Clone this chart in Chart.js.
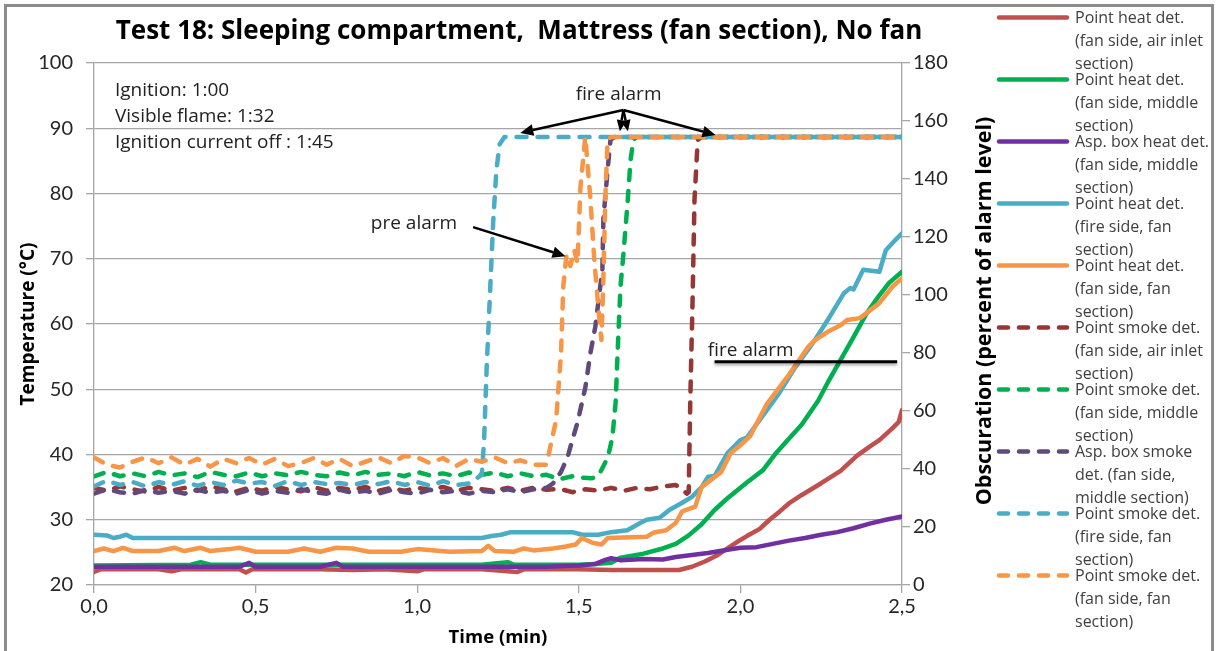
<!DOCTYPE html>
<html>
<head>
<meta charset="utf-8">
<script src="https://cdn.jsdelivr.net/npm/chart.js@4.4.1/dist/chart.umd.min.js"></script>
<style>
    html, body { margin: 0; padding: 0; background: #fff; }
    #wrap { position: relative; width: 1216px; height: 651px; overflow: hidden; }
    #frame { position: absolute; left: 4px; top: 4px; width: 1210px; height: 700px; border: 3px solid #8c8c8c; box-sizing: border-box; }
    #chart { position: absolute; left: 0; top: 0; }
    #legend { position: absolute; left: 0; top: 0; width: 1216px; height: 651px; pointer-events: none;
              font-family: "Open Sans", sans-serif; font-size: 16px; color: #404040; }
    .lg-item { position: absolute; left: 995px; }
    .lg-item svg { position: absolute; left: 0; top: 0; }
    .lg-text { position: absolute; left: 80px; top: 0; line-height: 23px; white-space: nowrap; }
</style>
</head>
<body>
<div id="wrap">
    <div id="frame"></div>
    <canvas id="chart" width="1216" height="651"></canvas>
    <div id="legend"></div>
</div>
<script>
// time in minutes, heat detectors in deg C (left axis)
const heatInlet = [[0,22.0],[0.02,22.4],[0.1,22.4],[0.2,22.4],[0.24,22.1],[0.27,22.4],[0.45,22.4],[0.47,21.9],[0.49,22.4],[0.6,22.4],[0.7,22.4],[0.8,22.3],[0.9,22.4],[1.0,22.1],[1.02,22.4],[1.2,22.4],[1.31,22.0],[1.33,22.4],[1.5,22.4],[1.6,22.3],[1.7,22.3],[1.81,22.3],[1.85,22.8],[1.89,23.6],[1.93,24.6],[1.96,25.6],[2.0,26.9],[2.02,27.5],[2.06,28.6],[2.09,30.0],[2.12,31.2],[2.15,32.5],[2.19,33.8],[2.25,35.6],[2.31,37.5],[2.36,39.8],[2.4,41.2],[2.43,42.2],[2.47,44.0],[2.49,45.0],[2.5,46.8]];
const heatMiddle = [[0,23.0],[0.3,23.1],[0.33,23.5],[0.36,23.1],[0.6,23.1],[0.9,23.1],[1.2,23.1],[1.28,23.5],[1.3,23.1],[1.5,23.1],[1.55,23.2],[1.6,23.4],[1.63,24.2],[1.7,24.8],[1.76,25.6],[1.8,26.3],[1.84,27.6],[1.88,29.3],[1.92,31.5],[1.96,33.3],[2.0,34.9],[2.02,35.7],[2.07,37.6],[2.11,40.2],[2.15,42.4],[2.19,44.6],[2.24,48.2],[2.27,51.0],[2.31,54.5],[2.35,58.0],[2.39,61.6],[2.43,64.4],[2.46,66.3],[2.5,68.0]];
const heatAsp = [[0,22.8],[0.2,22.8],[0.45,22.8],[0.48,23.4],[0.5,22.8],[0.7,22.8],[0.75,23.4],[0.77,22.8],[1.0,22.8],[1.2,22.8],[1.4,22.8],[1.45,22.9],[1.5,23.0],[1.55,23.2],[1.58,23.8],[1.6,24.1],[1.63,23.8],[1.7,24.0],[1.76,23.9],[1.8,24.3],[1.85,24.6],[1.9,24.9],[1.96,25.4],[2.0,25.7],[2.05,25.8],[2.1,26.3],[2.15,26.8],[2.2,27.2],[2.25,27.7],[2.3,28.1],[2.35,28.7],[2.4,29.4],[2.45,30.0],[2.5,30.5]];
const heatFire = [[0,27.7],[0.04,27.6],[0.06,27.2],[0.08,27.4],[0.1,27.7],[0.12,27.2],[0.3,27.2],[0.6,27.2],[0.9,27.2],[1.2,27.2],[1.23,27.5],[1.26,27.7],[1.29,28.1],[1.48,28.1],[1.51,27.7],[1.56,27.7],[1.6,28.1],[1.65,28.4],[1.69,29.5],[1.71,30.0],[1.75,30.3],[1.78,31.5],[1.82,32.6],[1.85,33.5],[1.88,35.0],[1.9,36.6],[1.92,36.7],[1.96,40.2],[2.0,42.2],[2.02,42.6],[2.06,45.3],[2.12,49.4],[2.17,53.4],[2.23,57.5],[2.27,60.6],[2.32,64.7],[2.34,65.5],[2.35,65.3],[2.38,68.3],[2.43,68.0],[2.45,71.3],[2.48,72.9],[2.5,73.9]];
const heatFan = [[0,25.2],[0.03,25.6],[0.06,25.2],[0.09,25.7],[0.12,25.2],[0.2,25.2],[0.25,25.7],[0.28,25.2],[0.33,25.7],[0.36,25.2],[0.42,25.5],[0.45,25.7],[0.5,25.1],[0.6,25.1],[0.65,25.6],[0.7,25.1],[0.75,25.7],[0.8,25.6],[0.85,25.1],[0.95,25.1],[1.0,25.5],[1.1,25.1],[1.2,25.2],[1.22,26.0],[1.24,25.2],[1.3,25.1],[1.33,25.6],[1.36,25.3],[1.42,25.6],[1.46,25.9],[1.49,26.2],[1.51,27.2],[1.54,26.5],[1.57,26.2],[1.59,27.2],[1.71,27.4],[1.73,28.0],[1.77,28.4],[1.8,29.5],[1.82,31.3],[1.86,32.0],[1.88,35.0],[1.94,37.3],[1.97,40.2],[2.0,41.4],[2.03,42.8],[2.08,47.6],[2.15,52.2],[2.21,56.5],[2.23,57.5],[2.27,58.8],[2.31,59.8],[2.33,60.6],[2.37,60.9],[2.43,63.2],[2.47,65.7],[2.5,67.0]];

// smoke detectors in percent of alarm level (right axis)
const smokeInlet = [[0,33.5],[0.04,32.5],[0.08,34],[0.12,33],[0.16,32.2],[0.2,33.8],[0.24,32.5],[0.28,33.5],[0.32,32.5],[0.36,34],[0.4,33],[0.44,32.3],[0.48,33.5],[0.52,32.5],[0.56,33.8],[0.6,33],[0.64,32.3],[0.68,33.8],[0.72,32.5],[0.76,33.5],[0.8,32.8],[0.84,33.8],[0.88,32.5],[0.92,33.5],[0.96,32.5],[1.0,33.5],[1.04,32.8],[1.08,33.8],[1.12,32.5],[1.16,33.5],[1.2,33],[1.24,32.5],[1.28,33.5],[1.32,32.5],[1.36,33.5],[1.4,32.8],[1.44,33.2],[1.48,32],[1.52,33],[1.56,32.5],[1.6,33.5],[1.64,32.5],[1.68,33.5],[1.72,33],[1.76,34],[1.8,34.5],[1.835,31.5],[1.84,32],[1.845,64],[1.852,98],[1.858,133],[1.868,153.5],[1.88,154.5],[2.5,154.5]];
const smokeMiddle = [[0,37.5],[0.04,39],[0.08,37.5],[0.12,38.5],[0.16,37.5],[0.2,39],[0.24,37.8],[0.28,38.5],[0.32,37.2],[0.36,39],[0.4,38],[0.44,37.5],[0.48,38.8],[0.52,37.5],[0.56,38.5],[0.6,37.8],[0.64,39],[0.68,38],[0.72,37.5],[0.76,38.8],[0.8,37.8],[0.84,39],[0.88,38],[0.92,38.5],[0.96,37.5],[1.0,39],[1.04,37.8],[1.08,38.5],[1.12,37.5],[1.16,38.8],[1.2,38],[1.24,38.8],[1.28,37.5],[1.32,38.5],[1.36,37.5],[1.4,38],[1.44,36.5],[1.48,37.5],[1.51,37],[1.54,36.8],[1.56,37.5],[1.59,44],[1.604,51],[1.614,63],[1.62,80],[1.629,103],[1.638,114],[1.651,132],[1.66,146.5],[1.669,153.5],[1.68,154.5],[2.5,154.5]];
const smokeAsp = [[0,31.5],[0.04,33],[0.08,32],[0.12,31.5],[0.16,32.8],[0.2,31.8],[0.24,32.5],[0.28,31.5],[0.32,32.8],[0.36,31.8],[0.4,32.5],[0.44,31.5],[0.48,32.8],[0.52,31.5],[0.56,32.5],[0.6,31.8],[0.64,33],[0.68,32],[0.72,31.5],[0.76,32.8],[0.8,31.8],[0.84,32.5],[0.88,31.5],[0.92,32.8],[0.96,32],[1.0,31.5],[1.04,32.8],[1.08,32],[1.12,32.5],[1.16,31.5],[1.2,32.5],[1.24,32],[1.28,33],[1.32,32],[1.36,33],[1.4,33.5],[1.42,35],[1.445,39],[1.465,44],[1.48,50],[1.496,56],[1.51,63],[1.52,68],[1.536,80],[1.551,89],[1.561,98],[1.573,109],[1.576,126],[1.589,143],[1.598,153.5],[1.61,154.5],[2.5,154.5]];
const smokeFire = [[0,34],[0.04,36],[0.08,34.5],[0.12,35.5],[0.16,34],[0.2,35.5],[0.24,34.5],[0.28,35.8],[0.32,34.2],[0.36,35.5],[0.4,34.5],[0.44,36],[0.48,35],[0.52,35.5],[0.56,34.2],[0.6,35.8],[0.64,34.5],[0.68,35.5],[0.72,34.8],[0.76,35.2],[0.8,34.5],[0.84,35.5],[0.88,34.8],[0.92,35.8],[0.96,34.5],[1.0,35.5],[1.04,34.2],[1.08,35.8],[1.12,34.5],[1.16,35],[1.2,38],[1.207,50],[1.215,75],[1.225,100],[1.235,125],[1.245,143],[1.255,152],[1.27,154.5],[2.5,154.5]];
const smokeFan = [[0,44],[0.04,41.5],[0.08,40.5],[0.12,42.5],[0.16,44],[0.2,42],[0.24,44],[0.28,41.5],[0.32,43.5],[0.36,40.8],[0.4,43.5],[0.44,42],[0.48,43.8],[0.52,41.5],[0.56,43.5],[0.6,41],[0.64,42],[0.68,43.8],[0.72,41.5],[0.76,43.5],[0.8,41],[0.84,42.5],[0.88,44],[0.92,42],[0.96,44.5],[1.0,44],[1.04,42],[1.08,43.8],[1.12,41],[1.16,43.5],[1.2,42.5],[1.24,44],[1.28,42],[1.32,43],[1.36,41.5],[1.4,41.5],[1.43,57],[1.445,80],[1.452,103],[1.462,114],[1.474,110],[1.486,115.5],[1.496,111],[1.505,137],[1.52,154.5],[1.536,133],[1.548,112],[1.561,95],[1.57,84.5],[1.576,105],[1.582,133],[1.589,153.5],[1.6,154.5],[2.5,154.5]];

const seriesData = [heatInlet, heatMiddle, heatAsp, heatFire, heatFan, smokeInlet, smokeMiddle, smokeAsp, smokeFire, smokeFan];
const seriesLabels = [
    ['Point heat det.', '(fan side, air inlet', 'section)'],
    ['Point heat det.', '(fan side, middle', 'section)'],
    ['Asp. box heat det.', '(fan side, middle', 'section)'],
    ['Point heat det.', '(fire side, fan', 'section)'],
    ['Point heat det.', '(fan side, fan', 'section)'],
    ['Point smoke det.', '(fan side, air inlet', 'section)'],
    ['Point smoke det.', '(fan side, middle', 'section)'],
    ['Asp. box smoke', 'det. (fan side,', 'middle section)'],
    ['Point smoke det.', '(fire side, fan', 'section)'],
    ['Point smoke det.', '(fan side, fan', 'section)']
];
const seriesColors = ['#C0504D', '#00B050', '#7030A0', '#4BACC6', '#F79646', '#953735', '#00B050', '#604A7B', '#4BACC6', '#F79646'];
const seriesDashed = [false, false, false, false, false, true, true, true, true, true];

const xTicks = [0, 0.5, 1.0, 1.5, 2.0, 2.5];
const heatAlarmLevel = 54.2;   // deg C, fire alarm line for heat detectors

const tickFont = 'Lato, "Open Sans", sans-serif';
const textFont = '"Open Sans", sans-serif';
const gridColor = '#a6a6a6';
const textColor = '#262626';

const datasets = seriesData.map((pts, i) => ({
    label: seriesLabels[i].join(' '),
    data: pts.map(p => ({ x: p[0], y: p[1] })),
    yAxisID: seriesDashed[i] ? 'y2' : 'y',
    borderColor: seriesColors[i],
    borderWidth: 4.5,
    borderDash: seriesDashed[i] ? [10, 11] : [],
    borderCapStyle: 'round',
    borderJoinStyle: 'round',
    pointRadius: 0,
    tension: 0,
    order: seriesData.length - i
}));

function drawArrow(ctx, x1, y1, x2, y2, head) {
    const ang = Math.atan2(y2 - y1, x2 - x1);
    const bx = x2 - head * Math.cos(ang);
    const by = y2 - head * Math.sin(ang);
    ctx.beginPath();
    ctx.moveTo(x1, y1);
    ctx.lineTo(bx, by);
    ctx.stroke();
    ctx.beginPath();
    ctx.moveTo(x2, y2);
    ctx.lineTo(bx + head * 0.45 * Math.sin(ang), by - head * 0.45 * Math.cos(ang));
    ctx.lineTo(bx - head * 0.45 * Math.sin(ang), by + head * 0.45 * Math.cos(ang));
    ctx.closePath();
    ctx.fill();
}

// title, notes, alarm arrows and the right axis title
const notesPlugin = {
    id: 'notes',
    afterDatasetsDraw(chart) {
        const { ctx, chartArea, scales } = chart;
        const x = scales.x, yT = scales.y, yO = scales.y2;
        ctx.save();

        ctx.fillStyle = '#000';
        ctx.font = 'bold 26px ' + textFont;
        ctx.textAlign = 'center';
        ctx.textBaseline = 'middle';
        ctx.fillText('Test 18: Sleeping compartment,  Mattress (fan section), No fan', (chartArea.left + chartArea.right) / 2 + 21, 32);

        ctx.fillStyle = '#222';
        ctx.font = '19px ' + textFont;
        ctx.textAlign = 'left';
        const noteX = chartArea.left + 21;
        ctx.fillText('Ignition: 1:00', noteX, chartArea.top + 28);
        ctx.fillText('Visible flame: 1:32', noteX, chartArea.top + 54);
        ctx.fillText('Ignition current off : 1:45', noteX, chartArea.top + 80);

        ctx.font = '19px ' + textFont;
        ctx.textAlign = 'center';
        ctx.fillText('fire alarm', x.getPixelForValue(1.623), yO.getPixelForValue(169));
        ctx.fillText('pre alarm', x.getPixelForValue(0.99), yO.getPixelForValue(124.5));
        ctx.fillText('fire alarm', x.getPixelForValue(2.032), yT.getPixelForValue(56.0));

        ctx.strokeStyle = '#000';
        ctx.fillStyle = '#000';
        ctx.lineWidth = 2.5;
        const ax = x.getPixelForValue(1.638), ay = yO.getPixelForValue(163.8);
        drawArrow(ctx, ax, ay, x.getPixelForValue(1.319), yO.getPixelForValue(155.9), 13);
        drawArrow(ctx, ax, ay, x.getPixelForValue(1.923), yO.getPixelForValue(155.2), 13);
        drawArrow(ctx, ax, ay, x.getPixelForValue(1.627), yO.getPixelForValue(156.5), 11);
        drawArrow(ctx, ax, ay, x.getPixelForValue(1.652), yO.getPixelForValue(156.5), 11);
        drawArrow(ctx, x.getPixelForValue(1.173), yO.getPixelForValue(123.4), x.getPixelForValue(1.459), yO.getPixelForValue(113.4), 13);

        ctx.shadowColor = 'rgba(0,0,0,0.35)';
        ctx.shadowBlur = 3;
        ctx.shadowOffsetY = 2;
        ctx.lineWidth = 3;
        ctx.beginPath();
        ctx.moveTo(x.getPixelForValue(1.92), yT.getPixelForValue(heatAlarmLevel));
        ctx.lineTo(x.getPixelForValue(2.485), yT.getPixelForValue(heatAlarmLevel));
        ctx.stroke();
        ctx.restore();

        ctx.save();
        ctx.fillStyle = '#000';
        ctx.font = 'bold 21.5px ' + textFont;
        ctx.textAlign = 'center';
        ctx.textBaseline = 'middle';
        ctx.translate(chartArea.right + 83, (chartArea.top + chartArea.bottom) / 2 - 13);
        ctx.rotate(-Math.PI / 2);
        ctx.fillText('Obscuration (percent of alarm level)', 0, 0);
        ctx.restore();
    }
};

const ctx = document.getElementById('chart').getContext('2d');
new Chart(ctx, {
    type: 'line',
    data: { datasets: datasets },
    options: {
        responsive: false,
        animation: false,
        layout: { padding: { top: 63, right: 224, bottom: 0, left: 0 } },
        plugins: {
            legend: { display: false },
            title: { display: false },
            tooltip: { enabled: false }
        },
        scales: {
            x: {
                type: 'linear',
                min: 0,
                max: 2.5,
                afterFit: s => { s.height = 66; },
                afterBuildTicks: s => { s.ticks = xTicks.map(v => ({ value: v })); },
                ticks: {
                    font: { family: tickFont, size: 20 },
                    color: textColor,
                    padding: 2,
                    maxRotation: 0,
                    callback: v => v.toFixed(1).replace('.', ',')
                },
                grid: { drawOnChartArea: false, tickLength: 8, color: gridColor, lineWidth: 1.3 },
                border: { color: gridColor, width: 1.3 },
                title: {
                    display: true,
                    text: 'Time (min)',
                    font: { family: textFont, size: 18.5, weight: 'bold' },
                    color: '#000',
                    padding: { top: 0, bottom: 2 }
                }
            },
            y: {
                position: 'left',
                min: 20,
                max: 100,
                afterFit: s => { s.width = 94; },
                ticks: {
                    stepSize: 10,
                    font: { family: tickFont, size: 20 },
                    color: textColor,
                    padding: 13
                },
                grid: { color: gridColor, lineWidth: 1.3, tickLength: 8 },
                border: { color: gridColor, width: 1.3 },
                title: {
                    display: true,
                    text: 'Temperature (°C)',
                    font: { family: textFont, size: 19, weight: 'bold' },
                    color: '#000',
                    padding: { top: 17, bottom: 0 }
                }
            },
            y2: {
                position: 'right',
                min: 0,
                max: 180,
                afterFit: s => { s.width = 90; },
                ticks: {
                    stepSize: 20,
                    font: { family: tickFont, size: 20 },
                    color: textColor,
                    padding: 3
                },
                grid: { drawOnChartArea: false, color: gridColor, lineWidth: 1.3, tickLength: 8 },
                border: { color: gridColor, width: 1.3 }
            }
        }
    },
    plugins: [notesPlugin]
});

// legend on the right, built from the same series lists
const legendEl = document.getElementById('legend');
seriesLabels.forEach((lines, i) => {
    const rowY = 17 + 62 * i;
    const item = document.createElement('div');
    item.className = 'lg-item';
    item.style.top = (rowY - 11.5) + 'px';
    const dash = seriesDashed[i] ? ' stroke-dasharray="9 11"' : '';
    item.innerHTML =
        '<svg width="78" height="23"><line x1="4" y1="11.5" x2="72" y2="11.5" stroke="' + seriesColors[i] +
        '" stroke-width="4.5" stroke-linecap="round"' + dash + '/></svg>' +
        '<div class="lg-text">' + lines.join('<br>') + '</div>';
    legendEl.appendChild(item);
});
</script>
</body>
</html>
